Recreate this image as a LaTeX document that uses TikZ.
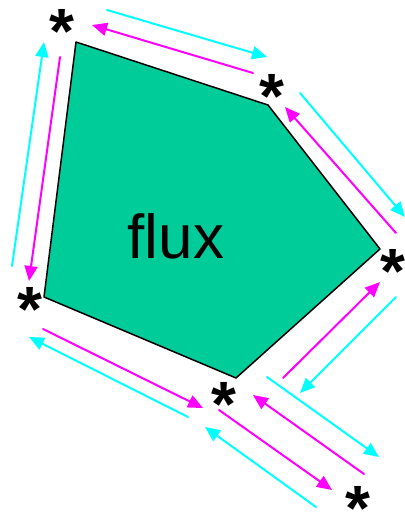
\documentclass[tikz,border=0pt]{standalone}
\usepackage{fontspec}
\setmainfont{Liberation Sans}
\usetikzlibrary{arrows.meta}
\definecolor{fluxgreen}{RGB}{0,204,153}
\definecolor{fluxcyan}{RGB}{0,255,255}
\definecolor{fluxmagenta}{RGB}{255,0,255}
\newcommand{\corner}{\raisebox{-0.38em}[0.34em][0pt]{*}}

\begin{document}
\begin{tikzpicture}[x=1pt,y=-1pt,line cap=round,line join=round,
  cyanflow/.style={fluxcyan,line width=2pt,-{Triangle[length=15pt,width=13pt]}},
  magflow/.style={fluxmagenta,line width=2pt,-{Triangle[length=15pt,width=13pt]}},
  star/.style={inner sep=0pt,font=\fontsize{64}{64}\bfseries\selectfont}]
  \useasboundingbox (0,0) rectangle (405,515);
  % the cell
  \coordinate (A) at (76,42);
  \coordinate (B) at (268,105);
  \coordinate (C) at (380,249);
  \coordinate (D) at (236,378);
  \coordinate (E) at (44,297);
  \draw[fill=fluxgreen,line width=1.5pt] (A) -- (B) -- (C) -- (D) -- (E) -- cycle;
  \node[anchor=base,font=\fontsize{62}{62}\selectfont] (label) at (176,258) {flux};
  % the stars at the corners
  \node[star] (sA) at (62,18) {\corner};
  \node[star] (sB) at (272,83) {\corner};
  \node[star] (sC) at (393,258) {\corner};
  \node[star] (sD) at (224,391) {\corner};
  \node[star] (sE) at (30,296) {\corner};
  \node[star] (sF) at (358,495) {\corner};
  % fluxes along each face
  \draw[cyanflow] (107,10) -- (267,57);
  \draw[magflow] (253,73) -- (92,25);
  \draw[cyanflow] (12,266) -- (44,42);
  \draw[magflow] (60,57) -- (29,281);
  \draw[magflow] (396,233) -- (285,107);
  \draw[cyanflow] (300,93) -- (405,217);
  \draw[magflow] (283,378) -- (380,282);
  \draw[cyanflow] (396,297) -- (300,393);
  \draw[magflow] (43,329) -- (203,408);
  \draw[cyanflow] (188,417) -- (29,337);
  \draw[magflow] (219,410) -- (332,490);
  \draw[cyanflow] (316,507) -- (205,427);
  \draw[magflow] (364,474) -- (253,395);
  \draw[cyanflow] (267,377) -- (379,457);
\end{tikzpicture}
\end{document}
